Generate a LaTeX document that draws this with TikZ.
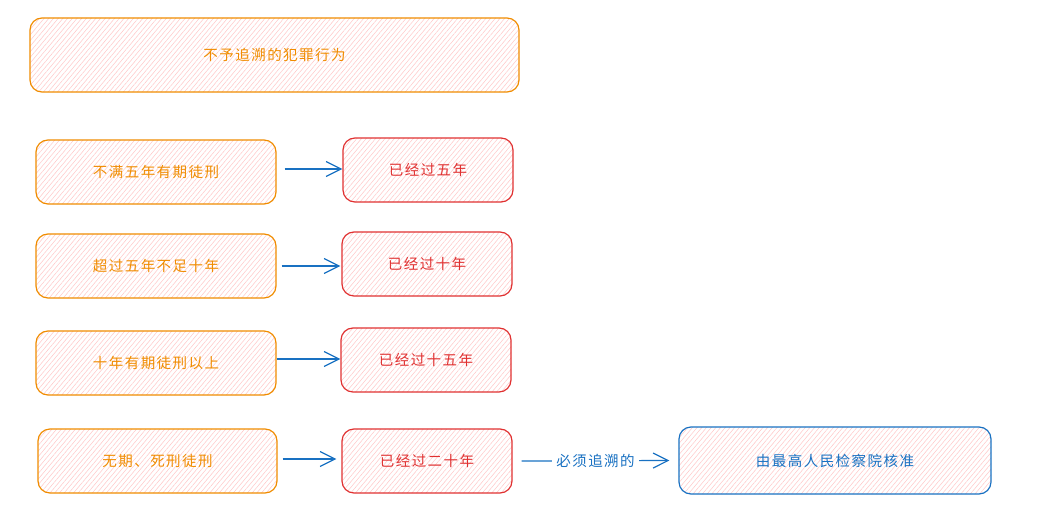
\documentclass[tikz,border=0pt]{standalone}
\usepackage{fontspec}
\newfontfamily\cjk[LetterSpace=10]{Noto Sans CJK SC}
\usetikzlibrary{arrows.meta,patterns.meta}
\definecolor{xorange}{HTML}{F08C00}
\definecolor{xred}{HTML}{E03131}
\definecolor{xblue}{HTML}{1971C2}
\definecolor{xpink}{HTML}{FFC9C9}
\begin{document}
\begin{tikzpicture}[x=1pt,y=-1pt]
\tikzset{
  box/.style={draw, line width=1.2pt, rounded corners=12pt,
    pattern={Lines[angle=50,distance=3.6pt,line width=0.55pt]}, pattern color=xpink,
    inner sep=0pt, font=\cjk\fontsize{14.5}{17}\selectfont},
  obox/.style={box, draw=xorange, text=xorange},
  rbox/.style={box, draw=xred, text=xred},
  bbox/.style={box, draw=xblue, text=xblue},
  arr/.style={draw=xblue, line width=1.2pt, -{Straight Barb[length=15pt,width=15pt,line width=1.2pt]}},
  lbl/.style={fill=white, text=xblue, inner sep=4pt, font=\cjk\fontsize{14.5}{17}\selectfont}
}
\useasboundingbox (0,0) rectangle (1060,519);
\node[obox, minimum width=489pt, minimum height=74pt] (top) at (274.5,55) {不予追溯的犯罪行为};

\node[obox, minimum width=240pt, minimum height=64pt] (l1) at (156,172) {不满五年有期徒刑};
\node[rbox, minimum width=170pt, minimum height=64pt] (r1) at (428,170) {已经过五年};
\node[obox, minimum width=240pt, minimum height=64pt] (l2) at (156,266) {超过五年不足十年};
\node[rbox, minimum width=170pt, minimum height=64pt] (r2) at (427,264) {已经过十年};
\node[obox, minimum width=240pt, minimum height=64pt] (l3) at (156,363) {十年有期徒刑以上};
\node[rbox, minimum width=170pt, minimum height=64pt] (r3) at (426,360) {已经过十五年};
\node[obox, minimum width=239pt, minimum height=64pt] (l4) at (157.5,461) {无期、死刑徒刑};
\node[rbox, minimum width=170pt, minimum height=64pt] (r4) at (427,461) {已经过二十年};
\node[bbox, minimum width=312pt, minimum height=67pt] (b) at (835,460.5) {由最高人民检察院核准};

\draw[arr] ([xshift=8pt,yshift=3pt]l1.east) -- ([yshift=1pt]r1.west);
\draw[arr] ([xshift=5pt]l2.east) -- ([xshift=-1pt,yshift=-2pt]r2.west);
\draw[arr] ([yshift=4pt]l3.east) -- ([yshift=1pt]r3.west);
\draw[arr] ([xshift=5pt,yshift=2pt]l4.east) -- ([xshift=-5pt,yshift=2pt]r4.west);
\draw[arr] ([xshift=9pt]r4.east) -- node[lbl] (m) {必须追溯的} ([xshift=-9pt]b.west);
\end{tikzpicture}
\end{document}
